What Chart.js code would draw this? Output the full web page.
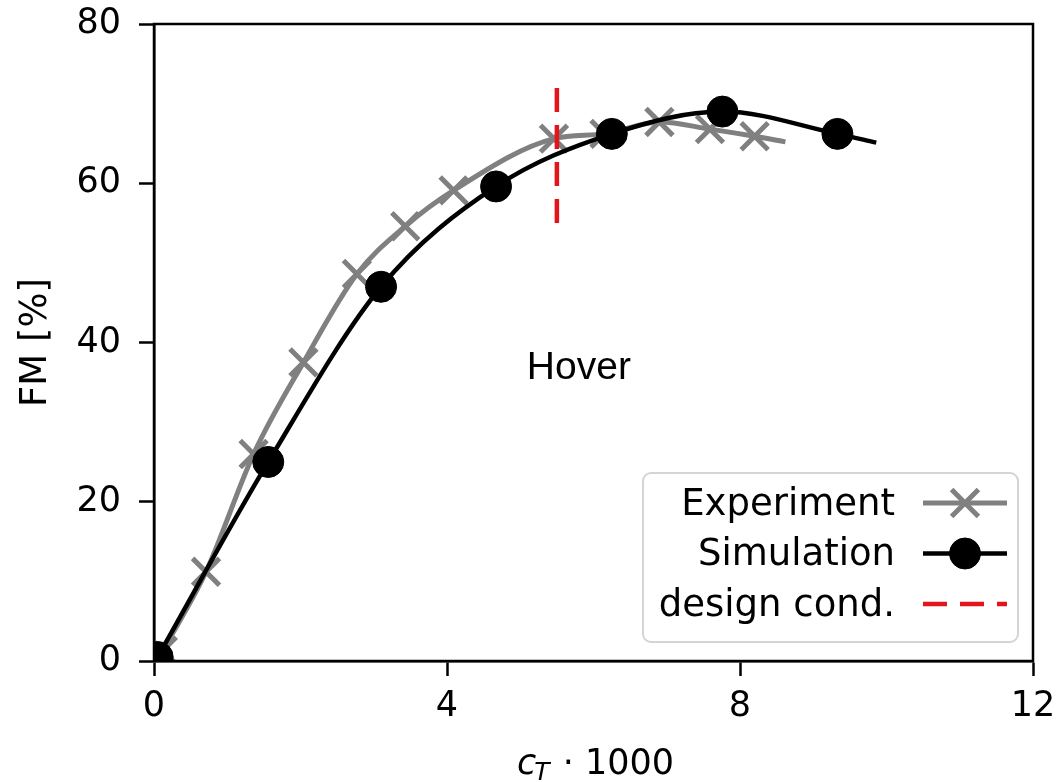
<!DOCTYPE html>
<html>
<head>
<meta charset="utf-8">
<script src="https://cdn.jsdelivr.net/npm/chart.js@4.4.1/dist/chart.umd.min.js"></script>
<style>
  html, body { margin: 0; padding: 0; background: #fff; }
  #wrap { width: 1057px; height: 782px; }
</style>
</head>
<body>
<div id="wrap"><canvas id="fmChart" width="1057" height="782"></canvas></div>
<script>
// ---------------- Data: figure of merit vs. thrust coefficient ----------------
// last entry of each curve is only where the fitted line ends (no marker there)
const expX = [0.12, 0.71, 1.36, 2.04, 2.77, 3.43, 4.09, 5.46, 6.15, 6.90, 7.59, 8.20, 8.62];
const expY = [1.3, 11.2, 26.0, 37.5, 48.6, 54.6, 59.1, 65.6, 66.2, 67.7, 66.8, 65.9, 65.2];

const simX = [0.05, 1.56, 3.10, 4.67, 6.25, 7.76, 9.33, 9.86];
const simY = [0.5, 25.0, 47.0, 59.6, 66.2, 69.0, 66.2, 65.1];

// design condition marker (vertical dashed segment)
const designX = [5.5, 5.5];
const designY = [55, 72];

const xTicks = [0, 4, 8, 12];
const yTicks = [0, 20, 40, 60, 80];

const seriesNames = ['Experiment', 'Simulation', 'design cond.'];
const annotation = { text: 'Hover', x: 5.8, y: 36.8 };

const toPoints = (xs, ys) => xs.map((x, i) => ({ x: x, y: ys[i] }));
const lastHidden = (r) => (ctx) => ctx.dataIndex === ctx.dataset.data.length - 1 ? 0 : r;

const FONT = "'DejaVu Sans', sans-serif";
const FS = 35;   // tick labels, x title
const FL = 37;   // legend, y title

// ---------------- plugins ----------------
// top/right spines + "Hover" label
const framePlugin = {
  id: 'frame',
  afterDatasetsDraw(chart) {
    const { ctx, scales } = chart;
    ctx.save();
    ctx.fillStyle = '#000';
    ctx.font = "39px 'Liberation Sans', Arial, sans-serif";
    ctx.textAlign = 'center';
    ctx.textBaseline = 'middle';
    ctx.fillText(annotation.text, scales.x.getPixelForValue(annotation.x), scales.y.getPixelForValue(annotation.y));
    ctx.restore();
  },
  afterDraw(chart) {
    const { ctx, chartArea: a } = chart;
    ctx.save();
    ctx.strokeStyle = '#000';
    ctx.lineWidth = 2.5;
    ctx.strokeRect(a.left, a.top, a.right - a.left, a.bottom - a.top);
    ctx.restore();
  }
};

// x title with math-style c_T
const xTitlePlugin = {
  id: 'xTitle',
  afterDraw(chart) {
    const { ctx, chartArea: a } = chart;
    const base = 774;
    ctx.save();
    ctx.fillStyle = '#000';
    ctx.textBaseline = 'alphabetic';
    ctx.textAlign = 'left';
    const fc = `italic ${FS}px ${FONT}`;
    const fs = `italic 25px ${FONT}`;
    const fr = `${FS}px ${FONT}`;
    ctx.font = fc; const wc = ctx.measureText('c').width;
    ctx.font = fs; const wt = ctx.measureText('T').width;
    ctx.font = fr; const wr = ctx.measureText(' \u00b7 1000').width;
    const total = wc + wt + wr;
    let x = (a.left + a.right) / 2 + 2 - total / 2;
    ctx.font = fc; ctx.fillText('c', x, base); x += wc;
    ctx.font = fs; ctx.fillText('T', x - 2, base + 6); x += wt;
    ctx.font = fr; ctx.fillText(' \u00b7 1000', x, base);
    ctx.restore();
  }
};

// legend box at lower right, text first then handle
const legendPlugin = {
  id: 'boxLegend',
  afterDraw(chart) {
    const { ctx, chartArea: a } = chart;
    const w = 375, h = 169;
    const bx = a.right - 15 - w, by = a.bottom - 19 - h;
    ctx.save();
    ctx.beginPath();
    ctx.roundRect(bx, by, w, h, 8);
    ctx.fillStyle = 'rgba(255,255,255,0.8)';
    ctx.fill();
    ctx.strokeStyle = '#d4d4d4';
    ctx.lineWidth = 2;
    ctx.stroke();

    ctx.font = `${FL}px ${FONT}`;
    ctx.textAlign = 'right';
    ctx.textBaseline = 'middle';
    seriesNames.forEach((name, row) => {
      const ds = chart.data.datasets.find(d => d.label === name);
      const y = by + 30 + row * 50.5;
      ctx.fillStyle = '#000';
      ctx.fillText(name, bx + w - 123, y + 2);
      const x0 = bx + w - 95, x1 = bx + w - 11;
      ctx.beginPath();
      ctx.strokeStyle = ds.borderColor;
      ctx.lineWidth = ds.borderWidth;
      ctx.setLineDash(ds.borderDash || []);
      ctx.moveTo(x0, y); ctx.lineTo(x1, y);
      ctx.stroke();
      ctx.setLineDash([]);
      if (ds.legendMarker) {
        ctx.fillStyle = ds.pointBackgroundColor;
        ctx.strokeStyle = ds.pointBorderColor;
        ctx.lineWidth = ds.pointBorderWidth;
        Chart.helpers.drawPoint(ctx, { pointStyle: ds.pointStyle, radius: ds.legendMarker, borderWidth: ds.pointBorderWidth }, (x0 + x1) / 2, y);
      }
    });
    ctx.restore();
  }
};

// ---------------- chart ----------------
const ctxFM = document.getElementById('fmChart').getContext('2d');
const fmChart = new Chart(ctxFM, {
  type: 'scatter',
  data: {
    datasets: [
      {
        label: 'design cond.',
        data: toPoints(designX, designY),
        showLine: true,
        borderColor: '#e3151b',
        borderWidth: 4.5,
        borderDash: [24, 13],
        pointRadius: 0,
        order: 0
      },
      {
        label: 'Simulation',
        data: toPoints(simX, simY),
        showLine: true,
        cubicInterpolationMode: 'monotone',
        borderColor: '#000',
        borderWidth: 4.5,
        pointStyle: 'circle',
        pointRadius: lastHidden(15.5),
        pointBackgroundColor: '#000',
        pointBorderColor: '#000',
        pointBorderWidth: 1,
        legendMarker: 15.5,
        order: 1
      },
      {
        label: 'Experiment',
        data: toPoints(expX, expY),
        showLine: true,
        cubicInterpolationMode: 'monotone',
        borderColor: '#808080',
        borderWidth: 5,
        pointStyle: 'crossRot',
        pointRadius: lastHidden(19),
        pointBackgroundColor: '#808080',
        pointBorderColor: '#808080',
        pointBorderWidth: 5,
        legendMarker: 19,
        order: 2
      }
    ]
  },
  options: {
    responsive: false,
    animation: false,
    events: [],
    layout: { padding: { left: 0, right: 24, top: 22, bottom: 0 } },
    plugins: { legend: { display: false }, tooltip: { enabled: false } },
    scales: {
      x: {
        type: 'linear',
        min: 0, max: 12,
        afterFit: (s) => { s.height = 121; s.paddingLeft = 0; s.paddingRight = 0; },
        afterBuildTicks: (s) => { s.ticks = xTicks.map(v => ({ value: v })); },
        grid: { drawOnChartArea: false, drawTicks: true, tickLength: 15, tickWidth: 2.5, tickColor: '#000' },
        border: { display: true, color: '#000', width: 2.5 },
        ticks: { color: '#000', padding: 10, font: { family: FONT, size: FS }, maxRotation: 0 },
        title: { display: false }
      },
      y: {
        type: 'linear',
        min: 0, max: 80,
        afterFit: (s) => { s.width = 154; s.paddingTop = 0; s.paddingBottom = 0; },
        afterBuildTicks: (s) => { s.ticks = yTicks.map(v => ({ value: v })); },
        grid: { drawOnChartArea: false, drawTicks: true, tickLength: 15, tickWidth: 2.5, tickColor: '#000' },
        border: { display: true, color: '#000', width: 2.5 },
        ticks: { color: '#000', padding: 18, font: { family: FONT, size: FS } },
        title: {
          display: true,
          text: 'FM [%]',
          color: '#000',
          font: { family: FONT, size: FL },
          padding: { top: 14, bottom: 0 }
        }
      }
    }
  },
  plugins: [framePlugin, xTitlePlugin, legendPlugin]
});
</script>
</body>
</html>
